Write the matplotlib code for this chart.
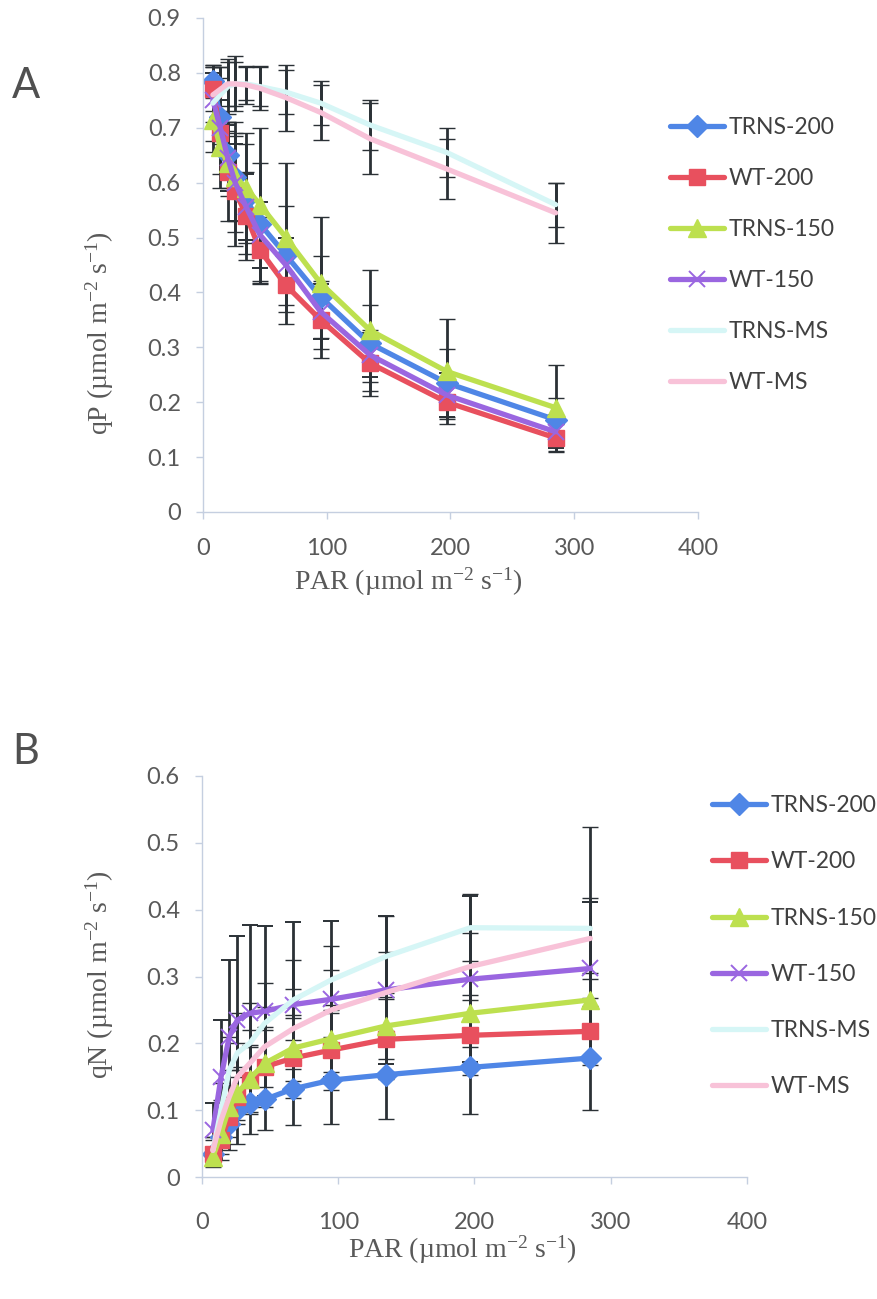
import numpy as np
import matplotlib
matplotlib.use("Agg")
import matplotlib.pyplot as plt
from matplotlib.lines import Line2D

plt.rcParams["mathtext.fontset"] = "custom"
plt.rcParams["mathtext.rm"] = "Liberation Serif"
plt.rcParams["mathtext.it"] = "Liberation Serif:italic"

# PAR steps of the light curve (shared by both panels)
par = [8, 14, 20, 26, 35, 46, 67, 95, 135, 197, 285]

names = ["TRNS-200", "WT-200", "TRNS-150", "WT-150", "TRNS-MS", "WT-MS"]
colors = ["#4f86e6", "#e8505e", "#bde04f", "#9a66e0", "#d6f6f6", "#f8c2d8"]
markers = ["D", "s", "^", "x", None, None]

# panel A : qP
qp_trns200 = [0.785, 0.72, 0.65, 0.61, 0.57, 0.525, 0.468, 0.392, 0.307, 0.235, 0.168]
qp_wt200 = [0.77, 0.69, 0.62, 0.585, 0.54, 0.477, 0.413, 0.35, 0.271, 0.20, 0.135]
qp_trns150 = [0.715, 0.665, 0.635, 0.61, 0.59, 0.56, 0.50, 0.417, 0.331, 0.256, 0.19]
qp_wt150 = [0.75, 0.70, 0.645, 0.60, 0.555, 0.505, 0.45, 0.365, 0.286, 0.213, 0.146]
qp_trnsms = [0.745, 0.76, 0.775, 0.78, 0.78, 0.775, 0.765, 0.745, 0.705, 0.655, 0.56]
qp_wtms = [0.76, 0.77, 0.78, 0.78, 0.778, 0.772, 0.755, 0.728, 0.68, 0.625, 0.545]

qp_err_trns200 = [0.03, 0.05, 0.06, 0.10, 0.10, 0.11, 0.09, 0.075, 0.07, 0.062, 0.04]
qp_err_wt200 = [0.04, 0.10, 0.09, 0.10, 0.08, 0.06, 0.07, 0.07, 0.06, 0.03, 0.025]
qp_err_trns150 = [0.06, 0.05, 0.06, 0.08, 0.10, 0.14, 0.135, 0.12, 0.11, 0.095, 0.078]
qp_err_wt150 = [0.05, 0.05, 0.06, 0.07, 0.06, 0.06, 0.05, 0.05, 0.04, 0.04, 0.03]
qp_err_trnsms = [0.07, 0.05, 0.05, 0.05, 0.03, 0.035, 0.04, 0.04, 0.045, 0.045, 0.04]
qp_err_wtms = [0.05, 0.04, 0.04, 0.04, 0.035, 0.04, 0.06, 0.05, 0.065, 0.055, 0.055]

# panel B : qN
qn_trns200 = [0.035, 0.06, 0.08, 0.10, 0.11, 0.116, 0.132, 0.145, 0.153, 0.164, 0.178]
qn_wt200 = [0.035, 0.055, 0.09, 0.12, 0.145, 0.165, 0.178, 0.19, 0.206, 0.212, 0.218]
qn_trns150 = [0.03, 0.065, 0.105, 0.125, 0.147, 0.17, 0.193, 0.207, 0.226, 0.245, 0.265]
qn_wt150 = [0.07, 0.15, 0.21, 0.235, 0.245, 0.248, 0.258, 0.266, 0.28, 0.296, 0.312]
qn_trnsms = [0.04, 0.10, 0.16, 0.186, 0.20, 0.23, 0.265, 0.295, 0.33, 0.373, 0.372]
qn_wtms = [0.04, 0.085, 0.12, 0.15, 0.17, 0.195, 0.222, 0.25, 0.276, 0.315, 0.357]

qn_err_trns200 = [0.02, 0.035, 0.04, 0.05, 0.045, 0.046, 0.054, 0.065, 0.066, 0.069, 0.078]
qn_err_wt200 = [0.01, 0.02, 0.03, 0.04, 0.05, 0.06, 0.06, 0.06, 0.06, 0.06, 0.05]
qn_err_trns150 = [0.01, 0.02, 0.03, 0.04, 0.05, 0.05, 0.05, 0.05, 0.05, 0.05, 0.04]
qn_err_wt150 = [0.04, 0.085, 0.115, 0.125, 0.132, 0.127, 0.124, 0.117, 0.111, 0.124, 0.10]
qn_err_trnsms = [0.02, 0.04, 0.05, 0.06, 0.06, 0.06, 0.06, 0.05, 0.06, 0.05, 0.151]
qn_err_wtms = [0.02, 0.03, 0.04, 0.05, 0.05, 0.06, 0.06, 0.06, 0.06, 0.05, 0.06]

qp_series = [qp_trns200, qp_wt200, qp_trns150, qp_wt150, qp_trnsms, qp_wtms]
qp_errs = [qp_err_trns200, qp_err_wt200, qp_err_trns150, qp_err_wt150, qp_err_trnsms, qp_err_wtms]
qn_series = [qn_trns200, qn_wt200, qn_trns150, qn_wt150, qn_trnsms, qn_wtms]
qn_errs = [qn_err_trns200, qn_err_wt200, qn_err_trns150, qn_err_wt150, qn_err_trnsms, qn_err_wtms]

W, H = 878, 1299
fig = plt.figure(figsize=(W / 100, H / 100), dpi=100)

sans = "Lato"
serif = "Liberation Serif"
axcol = "#c5cfe0"
txtcol = "#595959"


def px_axes(l, r, t, b):
    return fig.add_axes([l / W, 1 - b / H, (r - l) / W, (b - t) / H])


def msize(m):
    return {"D": 11, "s": 12, "^": 13, "x": 11}.get(m, 0)


def draw(ax, series, errs, ymax, yticks):
    for ys, es, c, m, n in zip(series, errs, colors, markers, names):
        ax.errorbar(par, ys, yerr=es, color=c, lw=3.8, marker=m, ms=msize(m),
                    mec=c, mew=1.4 if m == "x" else 1, ecolor="#2b3136",
                    elinewidth=2.0, capsize=5.5, capthick=2.0,
                    solid_capstyle="round", solid_joinstyle="round")
    ax.set_xlim(0, 400)
    ax.set_ylim(0, ymax)
    ax.set_xticks([0, 100, 200, 300, 400])
    ax.set_yticks(yticks)
    ax.set_yticklabels(["0" if v == 0 else "%.1f" % v for v in yticks])
    for s in ["top", "right"]:
        ax.spines[s].set_visible(False)
    for s in ["left", "bottom"]:
        ax.spines[s].set_color(axcol)
        ax.spines[s].set_linewidth(1.0)
    ax.tick_params(axis="both", colors=axcol, labelcolor=txtcol, labelsize=17,
                   length=5, width=1, direction="out")
    ax.tick_params(axis="y", pad=11)
    for lab in ax.get_xticklabels() + ax.get_yticklabels():
        lab.set_fontfamily(sans)


def legend(ax, x, y, spacing):
    handles = [Line2D([], [], color=c, lw=3.8, marker=m, ms=msize(m), mec=c,
                      mew=1.4 if m == "x" else 1, solid_capstyle="round")
               for c, m in zip(colors, markers)]
    ax.legend(handles, names, loc="upper left", bbox_to_anchor=(x / W, 1 - y / H),
              bbox_transform=fig.transFigure, frameon=False,
              handlelength=2.35, handletextpad=0.22, labelspacing=spacing,
              borderpad=0, borderaxespad=0,
              prop={"family": sans, "size": 16.5}, labelcolor="#404040")


# panel A
axA = px_axes(203, 698, 18, 512)
draw(axA, qp_series, qp_errs, 0.9, [0, 0.1, 0.2, 0.3, 0.4, 0.5, 0.6, 0.7, 0.8, 0.9])
axA.tick_params(axis="x", pad=14)
legend(axA, 670, 117, 1.31)

# panel B
axB = px_axes(202, 747, 776, 1177)
draw(axB, qn_series, qn_errs, 0.6, [0, 0.1, 0.2, 0.3, 0.4, 0.5, 0.6])
axB.tick_params(axis="x", pad=20)
legend(axB, 712, 795, 1.54)

# axis titles (Times style)
lab = "PAR (\u00b5mol m$^{\\mathregular{-2}}$ s$^{\\mathregular{-1}}$)"
fig.text(408 / W, 1 - 582 / H, lab, family=serif,
         size=20, color=txtcol, ha="center", va="center")
fig.text(462 / W, 1 - 1250 / H, lab, family=serif,
         size=20, color=txtcol, ha="center", va="center")
fig.text(100 / W, 1 - 333 / H, "qP (\u00b5mol m$^{\\mathregular{-2}}$ s$^{\\mathregular{-1}}$)",
         family=serif, size=20, color=txtcol, ha="center", va="center", rotation=90)
fig.text(100 / W, 1 - 975 / H, "qN (\u00b5mol m$^{\\mathregular{-2}}$ s$^{\\mathregular{-1}}$)",
         family=serif, size=20, color=txtcol, ha="center", va="center", rotation=90)

# panel letters
fig.text(26 / W, 1 - 86 / H, "A", family=sans, size=30, color="#505050",
         ha="center", va="center")
fig.text(26 / W, 1 - 752 / H, "B", family=sans, size=30, color="#505050",
         ha="center", va="center")

fig.savefig("out.png", dpi=100)
